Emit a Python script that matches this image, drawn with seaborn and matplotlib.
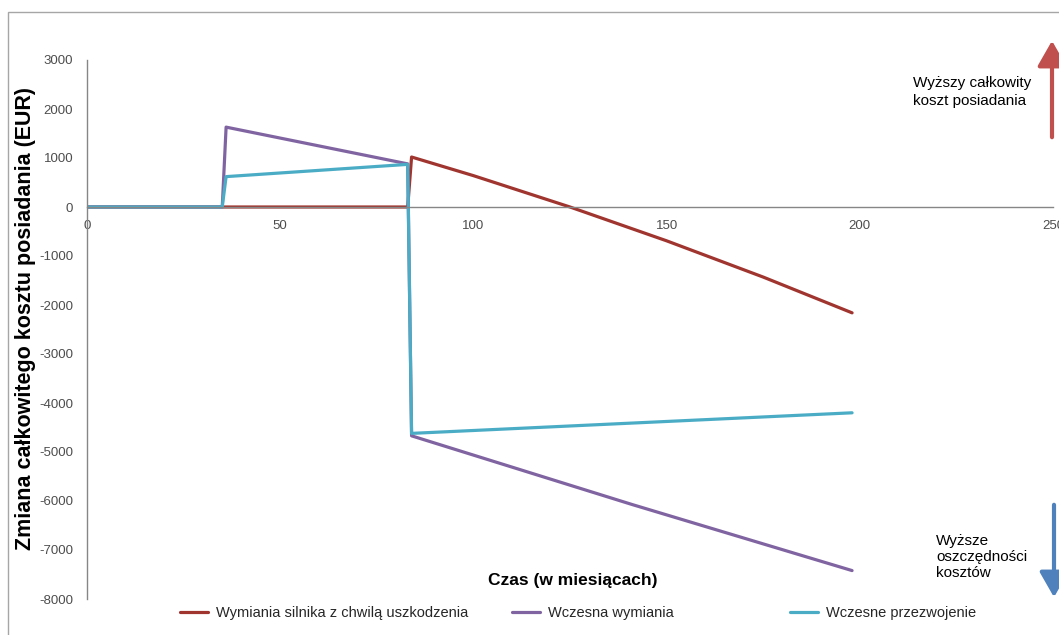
import matplotlib
matplotlib.use("Agg")
import matplotlib.pyplot as plt
import pandas as pd
import seaborn as sns
from matplotlib.patches import Rectangle, FancyArrowPatch

# Series names (legend entries)
series_names = [
    "Wymiania silnika z chwilą uszkodzenia",
    "Wczesna wymiania",
    "Wczesne przezwojenie",
]

# Change in total cost of ownership (EUR) against time (months)
months_failure = [0, 35, 83, 84, 100, 125, 150, 175, 198]
tco_failure = [0, 0, 0, 1020, 640, 0, -690, -1430, -2160]

months_early_replace = [0, 35, 36, 83, 84, 141, 198]
tco_early_replace = [0, 0, 1630, 880, -4670, -6070, -7420]

months_rewind = [0, 35, 36, 83, 84, 198]
tco_rewind = [0, 0, 620, 870, -4620, -4200]

x_ticks = [0, 50, 100, 150, 200, 250]
y_ticks = [-8000, -7000, -6000, -5000, -4000, -3000, -2000, -1000, 0, 1000, 2000, 3000]

x_title = "Czas (w miesiącach)"
y_title = "Zmiana całkowitego kosztu posiadania (EUR)"
note_up = "Wyższy całkowity\nkoszt posiadania"
note_down = "Wyższe\noszczędności\nkosztów"

colors = ["#A0352F", "#8064A2", "#4BACC6"]

sns.set_style("white")
plt.rcParams["font.family"] = ["Liberation Sans", "DejaVu Sans"]

frames = []
for name, xs, ys in zip(series_names,
                        [months_failure, months_early_replace, months_rewind],
                        [tco_failure, tco_early_replace, tco_rewind]):
    frames.append(pd.DataFrame({"month": xs, "tco": ys, "series": name}))
df = pd.concat(frames, ignore_index=True)

W, H = 1059, 635
fig = plt.figure(figsize=(W / 100, H / 100), dpi=100)
ax = fig.add_axes([87 / W, 1 - 599 / H, 966 / W, 539 / H])

sns.lineplot(data=df, x="month", y="tco", hue="series", hue_order=series_names,
             palette=dict(zip(series_names, colors)), estimator=None, sort=False,
             lw=2.3, legend=False, ax=ax)

ax.set_xlim(0, 250)
ax.set_ylim(-8000, 3000)
ax.set_xticks(x_ticks)
ax.set_yticks(y_ticks)
ax.set_xticklabels([str(v) for v in x_ticks])
ax.set_yticklabels([str(v) for v in y_ticks])
ax.set_xlabel("")
ax.set_ylabel("")

axis_grey = "#868686"
for side in ["top", "right"]:
    ax.spines[side].set_visible(False)
ax.spines["left"].set_color(axis_grey)
ax.spines["bottom"].set_color(axis_grey)
ax.spines["left"].set_linewidth(1.0)
ax.spines["bottom"].set_linewidth(1.0)
ax.spines["bottom"].set_position(("data", 0))
ax.tick_params(axis="both", which="major", direction="out", length=3,
               width=0.8, color=axis_grey, labelcolor="#4D4D4D", labelsize=9.5)
ax.tick_params(axis="y", pad=7)
ax.tick_params(axis="x", pad=6.5)
for lbl in ax.get_xticklabels() + ax.get_yticklabels():
    lbl.set_clip_on(False)

# axis titles
fig.text(26 / W, 1 - 318 / H, y_title, rotation=90, ha="center", va="center",
         fontsize=15.5, fontweight="bold", color="black")
fig.text(573 / W, 1 - 581 / H, x_title, ha="center", va="center",
         fontsize=12.5, fontweight="bold", color="black")

# legend: one entry per block along the bottom
lines = ax.get_lines()
legend_x = [180, 512, 790]
for line, name, lx in zip(lines, series_names, legend_x):
    fig.legend(handles=[line], labels=[name], loc="center left",
               bbox_to_anchor=(lx / W, 1 - 613 / H), frameon=False,
               fontsize=10.5, handlelength=1.9, handletextpad=0.6,
               borderpad=0, borderaxespad=0)

# direction notes with arrows
fig.text(913 / W, 1 - 92 / H, note_up, ha="left", va="center", fontsize=11,
         linespacing=1.35, color="black")
fig.text(936 / W, 1 - 557 / H, note_down, ha="left", va="center", fontsize=11,
         linespacing=1.2, color="black")
fig.add_artist(FancyArrowPatch((1052 / W, 1 - 140 / H), (1052 / W, 1 - 38 / H),
                               transform=fig.transFigure, arrowstyle="-|>,head_length=7,head_width=4",
                               color="#C0504D", lw=3.0, mutation_scale=2.2))
fig.add_artist(FancyArrowPatch((1054 / W, 1 - 502 / H), (1054 / W, 1 - 600 / H),
                               transform=fig.transFigure, arrowstyle="-|>,head_length=7,head_width=4",
                               color="#4F81BD", lw=3.0, mutation_scale=2.2))

# chart area border
fig.add_artist(Rectangle((8 / W, -0.05), 1.1, 1 - 12 / H + 0.05,
                         transform=fig.transFigure, fill=False,
                         edgecolor="#A6A6A6", lw=1.0))

fig.savefig("out.png", dpi=100)
